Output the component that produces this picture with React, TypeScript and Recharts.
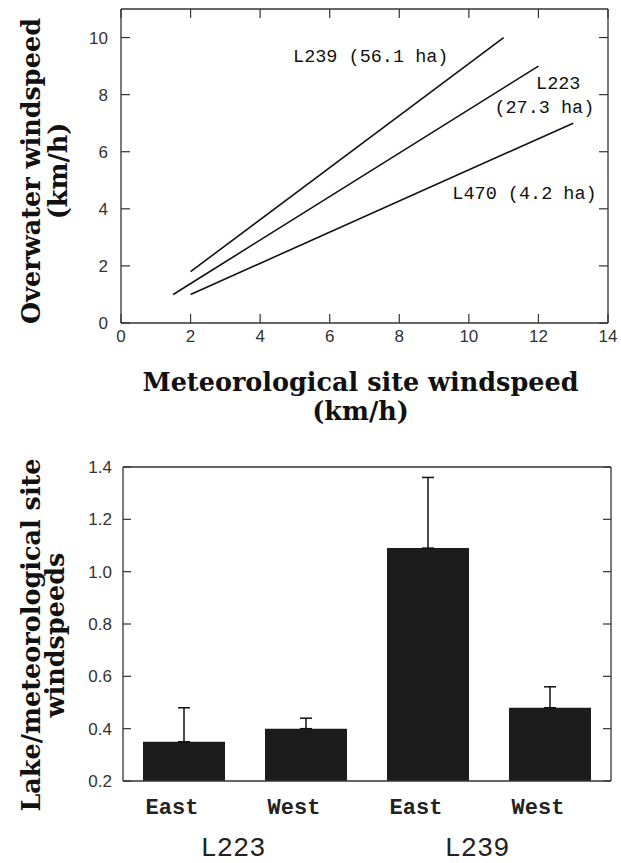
import React from 'react';
import {
  LineChart,
  Line,
  XAxis,
  YAxis,
  ReferenceDot,
  BarChart,
  Bar,
  ErrorBar,
} from 'recharts';

// ---------- Top panel data ----------
const xTicksTop = [0, 2, 4, 6, 8, 10, 12, 14];
const yTicksTop = [0, 2, 4, 6, 8, 10];
const l239Line = [
  { x: 2, y: 1.8 },
  { x: 11, y: 10 },
];
const l223Line = [
  { x: 1.5, y: 1.0 },
  { x: 12, y: 9 },
];
const l470Line = [
  { x: 2, y: 1.0 },
  { x: 13, y: 7 },
];
const annotations = [
  { text: 'L239 (56.1 ha)', x: 7.18, y: 9.37 },
  { text: 'L223', x: 12.57, y: 8.42 },
  { text: '(27.3 ha)', x: 12.17, y: 7.58 },
  { text: 'L470 (4.2 ha)', x: 11.6, y: 4.54 },
];

// ---------- Bottom panel data ----------
const barKeys = ['L223 East', 'L223 West', 'L239 East', 'L239 West'];
const sideLabels = ['East', 'West', 'East', 'West'];
const lakeGroups = ['L223', 'L223', 'L239', 'L239'];
const ratioValues = [0.35, 0.4, 1.09, 0.48];
const ratioErrUp = [0.13, 0.04, 0.27, 0.08];
const yTicksBottom = [0.2, 0.4, 0.6, 0.8, 1.0, 1.2, 1.4];

const barData = barKeys.map((k, i) => ({
  key: k,
  value: ratioValues[i],
  err: [0, ratioErrUp[i]],
}));

const AXIS = '#333';
const TICK_FONT = { fill: '#333', fontSize: 17, fontFamily: 'Liberation Sans, Arial, sans-serif' };
const TITLE_FONT = 'DejaVu Serif, serif';
const TITLE_SIZE = 25.5;

const EmptyTick = () => <g />;

const RotTitle = (lines: string[], cyOffset: number, bx: number, gap: number) => (props: any) => {
  const vb = props.viewBox || {};
  const cy = (vb.y || 0) + (vb.height || 0) / 2 + cyOffset;
  return (
    <text
      transform={`translate(${bx},${cy}) rotate(-90)`}
      textAnchor="middle"
      fontFamily={TITLE_FONT}
      fontWeight="bold"
      fontSize={TITLE_SIZE}
      fill="#111"
    >
      <tspan x={0} y={0}>{lines[0]}</tspan>
      <tspan x={0} y={gap}>{lines[1]}</tspan>
    </text>
  );
};

const XTitle = (props: any) => {
  const vb = props.viewBox || {};
  const cx = (vb.x || 0) + (vb.width || 0) / 2 - 4;
  const y0 = (vb.y || 0) + 68;
  return (
    <text textAnchor="middle" fontFamily={TITLE_FONT} fontWeight="bold" fontSize={TITLE_SIZE} fill="#111">
      <tspan x={cx} y={y0}>Meteorological site windspeed</tspan>
      <tspan x={cx} y={y0 + 29}>(km/h)</tspan>
    </text>
  );
};

const BarTick = (props: any) => {
  const { x, y, index } = props;
  return (
    <g>
      <text
        x={x - 12}
        y={y + 33}
        textAnchor="middle"
        fontFamily="Liberation Mono, monospace"
        fontWeight="bold"
        fontSize={22}
        fill="#222"
      >
        {sideLabels[index]}
      </text>
      {index % 2 === 0 && (
        <text
          x={x + 49}
          y={y + 75}
          textAnchor="middle"
          fontFamily="Liberation Mono, monospace"
          fontSize={27}
          fill="#222"
        >
          {lakeGroups[index]}
        </text>
      )}
    </g>
  );
};

const TopChart = () => (
  <LineChart width={621} height={430} margin={{ top: 8, right: 12, bottom: 0, left: 0 }}>
    <XAxis
      type="number"
      dataKey="x"
      domain={[0, 14]}
      ticks={xTicksTop}
      interval={0}
      allowDataOverflow
      height={107}
      tickSize={-9}
      tickMargin={16}
      axisLine={{ stroke: AXIS, strokeWidth: 1.3 }}
      tickLine={{ stroke: AXIS, strokeWidth: 1.2 }}
      tick={TICK_FONT}
      label={{ content: XTitle }}
    />
    <XAxis
      xAxisId="top"
      orientation="top"
      type="number"
      dataKey="x"
      domain={[0, 14]}
      ticks={xTicksTop}
      interval={0}
      allowDataOverflow
      height={1}
      tickSize={-9}
      tick={EmptyTick}
      axisLine={{ stroke: AXIS, strokeWidth: 1.3 }}
      tickLine={{ stroke: AXIS, strokeWidth: 1.2 }}
    />
    <YAxis
      type="number"
      domain={[0, 11]}
      ticks={yTicksTop}
      interval={0}
      allowDataOverflow
      width={121}
      tickSize={-9}
      tickMargin={22}
      axisLine={{ stroke: AXIS, strokeWidth: 1.3 }}
      tickLine={{ stroke: AXIS, strokeWidth: 1.2 }}
      tick={TICK_FONT}
      label={{ content: RotTitle(['Overwater windspeed', '(km/h)'], 5, 40, 27) }}
    />
    <YAxis
      yAxisId="right"
      orientation="right"
      type="number"
      domain={[0, 11]}
      ticks={yTicksTop}
      interval={0}
      allowDataOverflow
      width={1}
      tickSize={-9}
      tick={EmptyTick}
      axisLine={{ stroke: AXIS, strokeWidth: 1.3 }}
      tickLine={{ stroke: AXIS, strokeWidth: 1.2 }}
    />
    <Line data={l239Line} dataKey="y" stroke="#111" strokeWidth={1.6} dot={false} isAnimationActive={false} />
    <Line data={l223Line} dataKey="y" stroke="#111" strokeWidth={1.6} dot={false} isAnimationActive={false} />
    <Line data={l470Line} dataKey="y" stroke="#111" strokeWidth={1.6} dot={false} isAnimationActive={false} />
    {annotations.map((a) => (
      <ReferenceDot
        key={a.text}
        x={a.x}
        y={a.y}
        r={1}
        shape={(p: any) => (
          <text
            x={p.cx}
            y={p.cy}
            dy={6}
            textAnchor="middle"
            fontFamily="Liberation Mono, monospace"
            fontSize={18.5}
            fill="#111"
          >
            {a.text}
          </text>
        )}
      />
    ))}
  </LineChart>
);

const BottomChart = () => (
  <BarChart width={621} height={423} data={barData} margin={{ top: 26, right: 9, bottom: 0, left: 0 }}>
    <XAxis
      dataKey="key"
      height={82}
      tickLine={false}
      tickSize={0}
      tickMargin={0}
      interval={0}
      axisLine={{ stroke: AXIS, strokeWidth: 1.3 }}
      tick={BarTick}
    />
    <XAxis
      xAxisId="top"
      orientation="top"
      dataKey="key"
      height={1}
      tick={EmptyTick}
      tickLine={false}
      axisLine={{ stroke: AXIS, strokeWidth: 1.3 }}
    />
    <YAxis
      type="number"
      domain={[0.2, 1.4]}
      ticks={yTicksBottom}
      interval={0}
      allowDataOverflow
      width={123}
      tickSize={-8}
      tickMargin={19}
      tickFormatter={(v: number) => v.toFixed(1)}
      axisLine={{ stroke: AXIS, strokeWidth: 1.3 }}
      tickLine={{ stroke: AXIS, strokeWidth: 1.2 }}
      tick={TICK_FONT}
      label={{ content: RotTitle(['Lake/meteorological site', 'windspeeds'], 11, 40, 24) }}
    />
    <YAxis
      yAxisId="right"
      orientation="right"
      type="number"
      domain={[0.2, 1.4]}
      ticks={yTicksBottom}
      interval={0}
      allowDataOverflow
      width={1}
      tickSize={-8}
      tick={EmptyTick}
      axisLine={{ stroke: AXIS, strokeWidth: 1.3 }}
      tickLine={{ stroke: AXIS, strokeWidth: 1.2 }}
    />
    <Bar dataKey="value" fill="#1c1c1c" barSize={82} isAnimationActive={false}>
      <ErrorBar dataKey="err" direction="y" width={6} stroke="#111" strokeWidth={1.5} />
    </Bar>
  </BarChart>
);

export default function App() {
  return (
    <div style={{ position: 'absolute', left: 0, top: 0, width: 621, height: 863, background: '#fff' }}>
      <div style={{ position: 'absolute', left: 0, top: 0 }}>
        <TopChart />
      </div>
      <div style={{ position: 'absolute', left: 0, top: 440 }}>
        <BottomChart />
      </div>
    </div>
  );
}
